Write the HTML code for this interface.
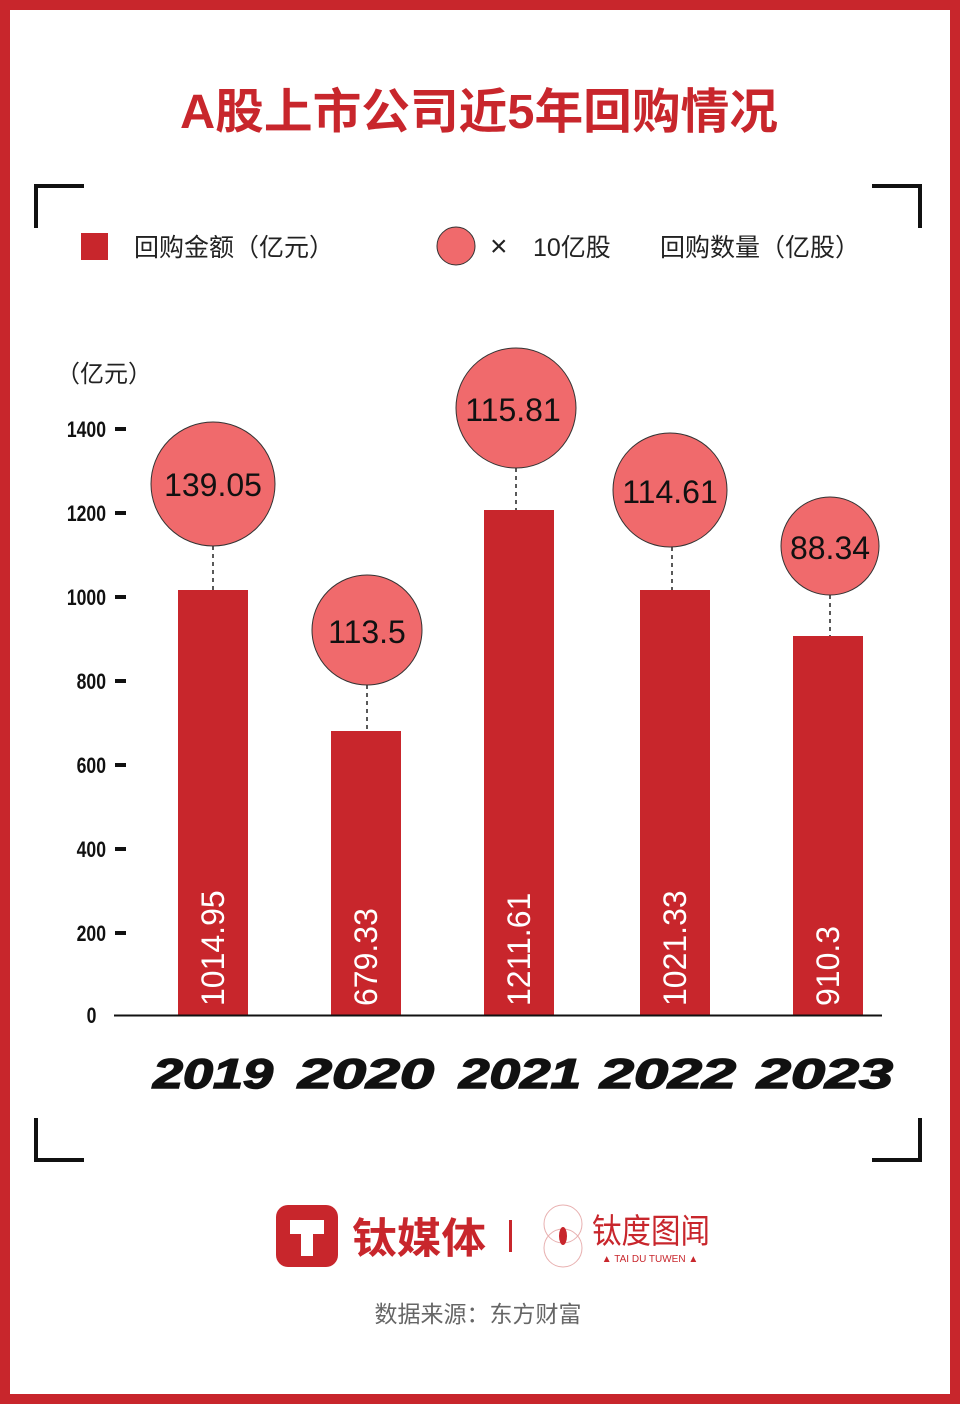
<!DOCTYPE html>
<html><head><meta charset="utf-8"><style>
html,body{margin:0;padding:0;background:#fff}
svg{display:block}
</style></head><body>
<svg width="960" height="1405" viewBox="0 0 960 1405" xmlns="http://www.w3.org/2000/svg" font-family="'Liberation Sans','Noto Sans CJK SC',sans-serif">
<rect x="0" y="0" width="960" height="1405" fill="#fff"/>
<rect x="5" y="5" width="950" height="1394" fill="none" stroke="#c8262c" stroke-width="10"/>
<text x="479" y="128" text-anchor="middle" font-size="48" font-weight="bold" fill="#c8262c" textLength="598" lengthAdjust="spacingAndGlyphs">A股上市公司近5年回购情况</text>
<g fill="none" stroke="#111" stroke-width="4">
<path d="M36 228 V186 H84"/>
<path d="M872 186 H920 V228"/>
<path d="M36 1118 V1160 H84"/>
<path d="M872 1160 H920 V1118"/>
</g>
<rect x="81" y="233" width="27" height="27" fill="#c8262c"/>
<text x="134" y="256" font-size="25" fill="#222">回购金额（亿元）</text>
<circle cx="456" cy="246" r="19" fill="#f06a6c" stroke="#333" stroke-width="1"/>
<text x="490" y="256" font-size="30" fill="#222">×</text>
<text x="533" y="256" font-size="25" fill="#222">10亿股</text>
<text x="660" y="256" font-size="25" fill="#222">回购数量（亿股）</text>
<text x="56" y="382" font-size="24" fill="#222">（亿元）</text>
<g font-size="22" font-weight="bold" fill="#111" text-anchor="end">
<g transform="translate(106,0) scale(0.8,1)">
<text x="0" y="437">1400</text><text x="0" y="521">1200</text><text x="0" y="605">1000</text>
<text x="0" y="689">800</text><text x="0" y="773">600</text><text x="0" y="857">400</text>
<text x="0" y="941">200</text><text x="-12" y="1023">0</text>
</g></g>
<g fill="#111">
<rect x="115" y="427" width="11" height="4"/><rect x="115" y="511" width="11" height="4"/>
<rect x="115" y="595" width="11" height="4"/><rect x="115" y="679" width="11" height="4"/>
<rect x="115" y="763" width="11" height="4"/><rect x="115" y="847" width="11" height="4"/>
<rect x="115" y="931" width="11" height="4"/>
</g>
<g fill="#c8262c">
<rect x="178" y="590" width="70" height="425"/>
<rect x="331" y="731" width="70" height="284"/>
<rect x="484" y="510" width="70" height="505"/>
<rect x="640" y="590" width="70" height="425"/>
<rect x="793" y="636" width="70" height="379"/>
</g>
<line x1="114" y1="1015.5" x2="882" y2="1015.5" stroke="#111" stroke-width="2"/>
<g font-size="32" fill="#fff">
<text transform="translate(224,1006) rotate(-90)">1014.95</text>
<text transform="translate(377,1006) rotate(-90)">679.33</text>
<text transform="translate(530,1006) rotate(-90)">1211.61</text>
<text transform="translate(686,1006) rotate(-90)">1021.33</text>
<text transform="translate(839,1006) rotate(-90)">910.3</text>
</g>
<g stroke="#222" stroke-width="1.5" stroke-dasharray="4,4">
<line x1="213" y1="546" x2="213" y2="590"/>
<line x1="367" y1="685" x2="367" y2="731"/>
<line x1="516" y1="468" x2="516" y2="510"/>
<line x1="672" y1="547" x2="672" y2="590"/>
<line x1="830" y1="595" x2="830" y2="636"/>
</g>
<g fill="#f06a6c" stroke="#333" stroke-width="1">
<circle cx="213" cy="484" r="62"/>
<circle cx="367" cy="630" r="55"/>
<circle cx="516" cy="408" r="60"/>
<circle cx="670" cy="490" r="57"/>
<circle cx="830" cy="546" r="49"/>
</g>
<g font-size="32" fill="#111" text-anchor="middle">
<text x="213" y="496">139.05</text>
<text x="367" y="643">113.5</text>
<text x="513" y="421">115.81</text>
<text x="670" y="503">114.61</text>
<text x="830" y="559">88.34</text>
</g>
<g font-size="42" font-weight="bold" font-style="italic" fill="#111" stroke="#111" stroke-width="1.5" text-anchor="middle">
<text x="213" y="1088" textLength="120" lengthAdjust="spacingAndGlyphs">2019</text>
<text x="366" y="1088" textLength="136" lengthAdjust="spacingAndGlyphs">2020</text>
<text x="520" y="1088" textLength="122" lengthAdjust="spacingAndGlyphs">2021</text>
<text x="668" y="1088" textLength="136" lengthAdjust="spacingAndGlyphs">2022</text>
<text x="825" y="1088" textLength="136" lengthAdjust="spacingAndGlyphs">2023</text>
</g>
<rect x="276" y="1205" width="62" height="62" rx="12" fill="#c8262c"/>
<path d="M290 1220 H324 V1234 H313 V1256 H301 V1234 H290 Z" fill="#fff"/>
<text x="352" y="1253" font-size="42" font-weight="bold" fill="#c8262c" textLength="134" lengthAdjust="spacingAndGlyphs">钛媒体</text>
<rect x="509" y="1220" width="3" height="32" fill="#c8262c"/>
<circle cx="563" cy="1224" r="19" fill="none" stroke="#e8b0b0" stroke-width="1"/>
<circle cx="563" cy="1248" r="19" fill="none" stroke="#e8b0b0" stroke-width="1"/>
<ellipse cx="563" cy="1236" rx="4" ry="9" fill="#c8262c"/>
<text x="592" y="1243" font-size="34" fill="#c8262c" textLength="118" lengthAdjust="spacingAndGlyphs">钛度图闻</text>
<text x="650" y="1262" font-size="10" fill="#c8262c" text-anchor="middle">▲ TAI DU TUWEN ▲</text>
<text x="478" y="1322" font-size="23" fill="#666" text-anchor="middle">数据来源：东方财富</text>
</svg>
</body></html>
